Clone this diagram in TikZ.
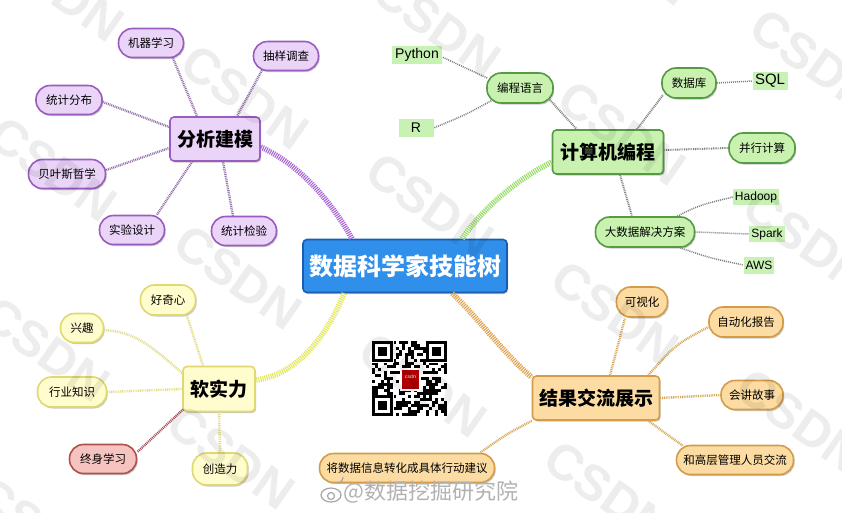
\documentclass[tikz,border=0pt]{standalone}
\usepackage{fontspec}
\setmainfont{Noto Sans CJK SC}
\newfontfamily\lat{Liberation Sans}
\usetikzlibrary{shadows,calc}
\definecolor{bluef}{HTML}{2F8FEA}
\definecolor{blueb}{HTML}{1A5CB0}
\definecolor{purf}{HTML}{EAD4F8}
\definecolor{purb}{HTML}{9A5CC0}
\definecolor{purT}{HTML}{A866D2}
\definecolor{purS}{HTML}{9470AC}
\definecolor{grnf}{HTML}{C9F2B0}
\definecolor{grnb}{HTML}{569A44}
\definecolor{grnT}{HTML}{98DC68}
\definecolor{grnS}{HTML}{808080}
\definecolor{tagf}{HTML}{C8F2B4}
\definecolor{yelf}{HTML}{FFFCCE}
\definecolor{yelb}{HTML}{E0D870}
\definecolor{yelT}{HTML}{E2E85A}
\definecolor{yelS}{HTML}{E2DC86}
\definecolor{redf}{HTML}{F6C4C0}
\definecolor{redb}{HTML}{B0504A}
\definecolor{redS}{HTML}{A44858}
\definecolor{oraf}{HTML}{FCDCA2}
\definecolor{orab}{HTML}{D49C48}
\definecolor{oraT}{HTML}{DFA250}
\definecolor{oraS}{HTML}{D6A654}
\tikzset{
  shad/.style={drop shadow={shadow xshift=1.2pt, shadow yshift=-1.5pt, opacity=0.3, fill=black!70}},
  hub/.style={draw, rounded corners=4, line width=1.6, minimum height=44, inner sep=2,
    font=\bfseries\fontsize{19}{19}\selectfont, shad},
  leaf/.style={draw, rounded corners=14, line width=1.6, minimum height=29, inner sep=2,
    font=\fontsize{11.5}{11.5}\selectfont, shad},
  tag/.style={fill=tagf, inner sep=2, font=\lat\fontsize{14}{14}\selectfont},
  smalltag/.style={tag, font=\lat\fontsize{12}{12}\selectfont},
  trunk/.style={line width=5.5, dash pattern=on 1.1 off 1.0},
  sub/.style={line width=2.4, dash pattern=on 0.9 off 0.9},
  thin/.style={line width=1.5, dash pattern=on 1 off 1, grnS},
  pur/.style={leaf, fill=purf, draw=purb},
  grn/.style={leaf, fill=grnf, draw=grnb},
  yel/.style={leaf, fill=yelf, draw=yelb},
  ora/.style={leaf, fill=oraf, draw=orab},
  wmark/.style={font=\lat\bfseries\fontsize{50}{50}\selectfont, text=black, opacity=0.07, rotate=-35}
}
\begin{document}
\begin{tikzpicture}[x=1pt,y=-1pt]
\useasboundingbox (0,0) rectangle (842,512);
\fill[white] (0,0) rectangle (842,512);

% ---------- nodes ----------
\node[hub, fill=bluef, draw=blueb, text=white, minimum width=204, minimum height=53,
  font=\bfseries\fontsize{24}{24}\selectfont] (main) at (405,266) {数据科学家技能树};

% analysis
\node[hub, fill=purf, draw=purb, minimum width=90] (fx) at (215,139) {分析建模};
\node[pur, minimum width=65] (jq) at (151,43) {机器学习};
\node[pur, minimum width=65] (cy) at (286,56) {抽样调查};
\node[pur, minimum width=66] (tf) at (69,100) {统计分布};
\node[pur, minimum width=77] (by) at (67,174) {贝叶斯哲学};
\node[pur, minimum width=65] (sy) at (132,230) {实验设计};
\node[pur, minimum width=65] (tj) at (244,231) {统计检验};

% programming
\node[hub, fill=grnf, draw=grnb, minimum width=111] (jsj) at (608,152) {计算机编程};
\node[grn, minimum width=66, minimum height=30] (bc) at (520,88) {编程语言};
\node[tag, minimum width=50, minimum height=17] (py) at (417,55) {Python};
\node[tag, minimum width=35, minimum height=18] (rr) at (416,128) {R};
\node[tag, minimum width=35, minimum height=18, font=\lat\fontsize{15}{15}\selectfont] (sql) at (770,81) {SQL};
\node[grn, minimum width=54, minimum height=30] (sjk) at (689,83) {数据库};
\node[grn, minimum width=66, minimum height=30] (bx) at (762,148) {并行计算};
\node[grn, minimum width=99, minimum height=30] (dsj) at (645,232) {大数据解决方案};
\node[smalltag, minimum width=45, minimum height=16] (hd) at (756,197) {Hadoop};
\node[smalltag, minimum width=33, minimum height=16] (sp) at (767,234) {Spark};
\node[smalltag, minimum width=28, minimum height=17] (aws) at (759,265) {AWS};

% soft skills
\node[hub, fill=yelf, draw=yelb, minimum width=72, minimum height=45] (rsl) at (219,389) {软实力};
\node[yel, minimum width=55, minimum height=30] (hq) at (168,300) {好奇心};
\node[yel, minimum width=43] (xq) at (82,328) {兴趣};
\node[yel, minimum width=69, minimum height=30] (hy) at (72,392) {行业知识};
\node[leaf, fill=redf, draw=redb, minimum width=67] (zs) at (103,459) {终身学习};
\node[yel, minimum width=55, minimum height=32] (cz) at (220,469) {创造力};

% communication
\node[hub, fill=oraf, draw=orab, minimum width=127] (jg) at (596,398) {结果交流展示};
\node[ora, minimum width=51, minimum height=30] (ksh) at (642,302) {可视化};
\node[ora, minimum width=74, minimum height=30] (zd) at (746,322) {自动化报告};
\node[ora, minimum width=62] (hj) at (752,395) {会讲故事};
\node[ora, minimum width=117] (hg) at (735,460) {和高层管理人员交流};
\node[ora, minimum width=175] (jy) at (407,468) {将数据信息转化成具体行动建议};

% ---------- trunks ----------
\draw[trunk, purT] ($(fx.east)+(0,8)$) .. controls (300,165) and (330,200) .. ($(main.north west)+(50,0)$);
\draw[trunk, grnT] ($(main.north west)+(160,0)$) .. controls (485,205) and (520,178) .. ($(jsj.west)+(0,10)$);
\draw[trunk, yelT] ($(main.south west)+(42,0)$) .. controls (325,340) and (295,375) .. ($(rsl.east)+(0,-9)$);
\draw[trunk, oraT] ($(main.south west)+(150,0)$) .. controls (480,320) and (505,355) .. ($(jg.north west)+(0,2)$);

% ---------- analysis branches ----------
\draw[sub, purS] ($(jq.south)+(22,0)$) -- ($(fx.north)+(-18,0)$);
\draw[sub, purS] ($(cy.south)+(-24,-1)$) -- ($(fx.north)+(22,0)$);
\draw[sub, purS] ($(tf.east)+(0,2)$) -- ($(fx.west)+(0,-12)$);
\draw[sub, purS] ($(by.east)+(0,-4)$) -- ($(fx.west)+(0,9)$);
\draw[sub, purS] ($(sy.north)+(25,0)$) -- ($(fx.south)+(-23,0)$);
\draw[sub, purS] ($(tj.north)+(-11,0)$) -- ($(fx.south)+(8,0)$);

% ---------- programming branches ----------
\draw[sub, grnS, line width=2] ($(bc.south east)+(-4,-4)$) -- ($(jsj.north west)+(25,0)$);
\draw[thin] ($(bc.west)+(1,-10)$) .. controls (465,68) .. ($(py.east)+(0,2)$);
\draw[thin] ($(bc.south west)+(5,-3)$) .. controls (465,115) .. (rr.east);
\draw[sub, grnS, line width=2] ($(jsj.north)+(29,0)$) -- ($(sjk.south west)+(2,-4)$);
\draw[thin] (sjk.east) -- (sql.west);
\draw[sub, grnS, line width=2] ($(jsj.east)+(0,-2)$) -- (bx.west);
\draw[sub, grnS, line width=2] ($(jsj.south)+(12,0)$) -- ($(dsj.north)+(-13,0)$);
\draw[thin] ($(dsj.north)+(32,0)$) .. controls (700,205) .. (hd.west);
\draw[thin] (dsj.east) -- (sp.west);
\draw[thin] ($(dsj.south)+(35,0)$) .. controls (710,258) .. (aws.west);

% ---------- soft skill branches ----------
\draw[sub, yelS] ($(rsl.north)+(-16,0)$) -- ($(hq.south)+(19,0)$);
\draw[sub, yelS] ($(rsl.west)+(0,-16)$) .. controls (150,345) and (135,332) .. ($(xq.east)+(0,2)$);
\draw[sub, yelS] (rsl.west) -- (hy.east);
\draw[sub, redS] ($(rsl.south west)+(1,-3)$) -- ($(zs.east)+(0,-7)$);
\draw[sub, yelS] (rsl.south) -- (cz.north);

% ---------- communication branches ----------
\draw[sub, oraS] ($(jg.north)+(14,0)$) .. controls (618,345) .. ($(ksh.south)+(-17,0)$);
\draw[sub, oraS] ($(jg.north east)+(-12,0)$) .. controls (675,345) .. ($(zd.west)+(0,5)$);
\draw[sub, oraS] (jg.east) -- (hj.west);
\draw[sub, oraS] ($(jg.south east)+(-12,0)$) -- ($(hg.north west)+(7,1)$);
\draw[sub, oraS] (jg.south west) .. controls (505,435) .. ($(jy.north east)+(-15,0)$);

% ---------- QR code ----------
\begin{scope}[shift={(372,341)}]
  \pgfmathsetseed{17}
  \foreach \i in {0,...,24}{
    \foreach \j in {0,...,24}{
      \pgfmathtruncatemacro\qb{rnd<0.5}
      \ifnum\qb=1 \fill[black] (\i*3,\j*3) rectangle ++(3,3);\fi
    }
  }
  \foreach \ox/\oy in {0/0,54/0,0/54}{
    \fill[white] (\ox-0.5,\oy-0.5) rectangle ++(22,22);
    \fill[black] (\ox,\oy) rectangle ++(21,21);
    \fill[white] (\ox+3,\oy+3) rectangle ++(15,15);
    \fill[black] (\ox+6,\oy+6) rectangle ++(9,9);
  }
  \fill[white] (28,27) rectangle (49,50);
  \fill[red!70!black] (30,29) rectangle (47,48);
  \node[text=white, font=\lat\fontsize{5}{5}\selectfont, inner sep=0] (qrlogo) at (38.5,36) {csdn};
\end{scope}

% ---------- weibo watermark ----------
\draw[black!35, line width=1.2] (331,495) ellipse (10 and 7);
\draw[black!35, line width=1.2] (331,496) circle (3.5);
\draw[black!35, line width=1.2] (337,483) arc (90:0:6);
\node[text=black!30, font=\fontsize{22}{22}\selectfont, anchor=west, inner sep=0] (wb) at (343,492) {@数据挖掘研究院};

% ---------- CSDN watermarks ----------
\foreach \wx/\wy in {60/-11,245/97,430/205,615/313,800/421,53/169,238/277,423/385,608/493,46/349,231/457,39/529,437/25,622/133,807/241,629/-47,814/61}{
  \node[wmark] at (\wx,\wy) {CSDN};
}
\end{tikzpicture}
\end{document}
